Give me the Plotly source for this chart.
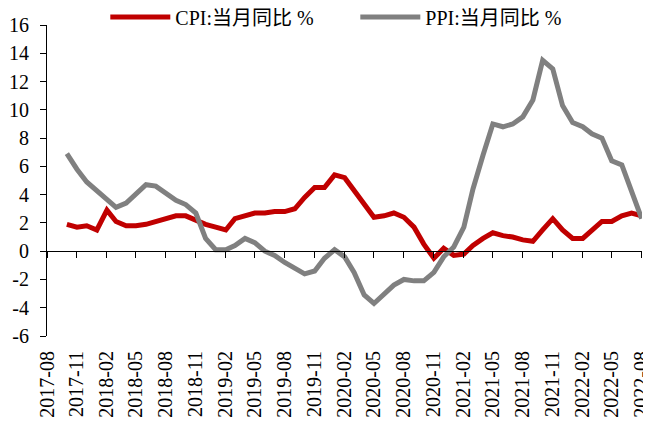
import plotly.graph_objects as go

months = [
    "2017-10", "2017-11", "2017-12",
    "2018-01", "2018-02", "2018-03", "2018-04", "2018-05", "2018-06",
    "2018-07", "2018-08", "2018-09", "2018-10", "2018-11", "2018-12",
    "2019-01", "2019-02", "2019-03", "2019-04", "2019-05", "2019-06",
    "2019-07", "2019-08", "2019-09", "2019-10", "2019-11", "2019-12",
    "2020-01", "2020-02", "2020-03", "2020-04", "2020-05", "2020-06",
    "2020-07", "2020-08", "2020-09", "2020-10", "2020-11", "2020-12",
    "2021-01", "2021-02", "2021-03", "2021-04", "2021-05", "2021-06",
    "2021-07", "2021-08", "2021-09", "2021-10", "2021-11", "2021-12",
    "2022-01", "2022-02", "2022-03", "2022-04", "2022-05", "2022-06",
    "2022-07", "2022-08",
]

cpi = [
    1.9, 1.7, 1.8,
    1.5, 2.9, 2.1, 1.8, 1.8, 1.9, 2.1, 2.3, 2.5, 2.5, 2.2, 1.9,
    1.7, 1.5, 2.3, 2.5, 2.7, 2.7, 2.8, 2.8, 3.0, 3.8, 4.5, 4.5,
    5.4, 5.2, 4.3, 3.3, 2.4, 2.5, 2.7, 2.4, 1.7, 0.5, -0.5, 0.2,
    -0.3, -0.2, 0.4, 0.9, 1.3, 1.1, 1.0, 0.8, 0.7, 1.5, 2.3, 1.5,
    0.9, 0.9, 1.5, 2.1, 2.1, 2.5, 2.7, 2.5,
]

ppi = [
    6.9, 5.8, 4.9,
    4.3, 3.7, 3.1, 3.4, 4.1, 4.7, 4.6, 4.1, 3.6, 3.3, 2.7, 0.9,
    0.1, 0.1, 0.4, 0.9, 0.6, 0.0, -0.3, -0.8, -1.2, -1.6, -1.4, -0.5,
    0.1, -0.4, -1.5, -3.1, -3.7, -3.0, -2.4, -2.0, -2.1, -2.1, -1.5, -0.4,
    0.3, 1.7, 4.4, 6.8, 9.0, 8.8, 9.0, 9.5, 10.7, 13.5, 12.9, 10.3,
    9.1, 8.8, 8.3, 8.0, 6.4, 6.1, 4.2, 2.3,
]

series_names = ["CPI:当月同比 %", "PPI:当月同比 %"]
x_start, x_end = "2017-08-01", "2022-08-02"
y_ticks = [-6, -4, -2, 0, 2, 4, 6, 8, 10, 12, 14, 16]
y_min, y_max = y_ticks[0], y_ticks[-1]

dates = [m + "-01" for m in months]
FONT = "Liberation Serif, Times New Roman, Noto Sans CJK SC, serif"

# the page body adds an 8px offset; the figure is sized to fit inside the window
W, H = 643, 410
ML, MR, MT, MB = 39, 9, 17, 82
plot_h = H - MT - MB

fig = go.Figure()
fig.add_trace(go.Scatter(x=dates, y=cpi, name=series_names[0], mode="lines",
                         line=dict(color="#C00000", width=5)))
fig.add_trace(go.Scatter(x=dates, y=ppi, name=series_names[1], mode="lines",
                         line=dict(color="#808080", width=5)))
# helper trace so the zero-crossing axis is rendered
fig.add_trace(go.Scatter(x=[dates[0]], y=[0], xaxis="x2", yaxis="y", mode="markers",
                         marker=dict(opacity=0), showlegend=False, hoverinfo="skip"))

fig.update_layout(
    width=W, height=H,
    margin=dict(l=ML, r=MR, t=MT, b=MB, autoexpand=False),
    paper_bgcolor="white", plot_bgcolor="white",
    font=dict(family=FONT, size=20, color="black"),
    showlegend=True,
    legend=dict(orientation="h", x=0.098, xanchor="left",
                y=1 + (MT - 9) / plot_h, yanchor="middle",
                font=dict(size=20), itemwidth=60, entrywidth=175,
                entrywidthmode="pixels",
                tracegroupgap=0, bgcolor="rgba(0,0,0,0)"),
    xaxis=dict(
        type="date", range=[x_start, x_end], tick0="2017-08-01", dtick="M3",
        tickformat="%Y-%m", tickangle=-90, showgrid=False, zeroline=False,
        showline=False, ticks="", ticklabelstandoff=10,
        ticklabeloverflow="allow",
        tickfont=dict(family=FONT, size=20),
    ),
    xaxis2=dict(
        type="date", range=[x_start, x_end], tick0="2017-08-01", dtick="M3",
        overlaying="x", anchor="free", position=(0 - y_min) / (y_max - y_min),
        showticklabels=False, showgrid=False, zeroline=False,
        showline=True, linecolor="black", linewidth=1,
        ticks="outside", ticklen=6, tickcolor="black", tickwidth=1,
        matches="x",
    ),
    yaxis=dict(
        range=[y_min, y_max], tickmode="array", tickvals=y_ticks,
        ticktext=[str(v) for v in y_ticks],
        showgrid=False, zeroline=False,
        showline=True, linecolor="black", linewidth=1,
        ticks="outside", ticklen=6, tickcolor="black", tickwidth=1,
        ticklabelstandoff=7, tickfont=dict(family=FONT, size=20),
    ),
)

fig.write_html("out.html")
